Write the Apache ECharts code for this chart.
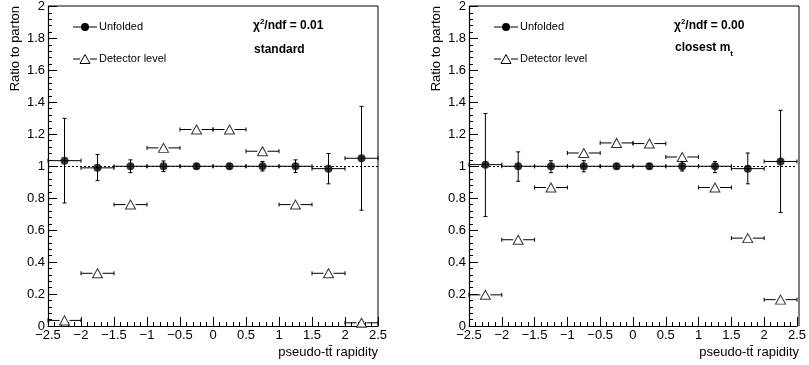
<!DOCTYPE html>
<html><head><meta charset="utf-8">
<script src="https://cdn.jsdelivr.net/npm/echarts@6/dist/echarts.min.js"></script>
<style>html,body{margin:0;padding:0;background:#fff}#c{width:809px;height:365px}</style>
</head><body><div id="c"></div>
<script>
// ---- data ----
const binEdges = [-2.5, -2, -1.5, -1, -0.5, 0, 0.5, 1, 1.5, 2, 2.5];
// panel 1: standard
const stdUnfolded   = [1.035, 0.99, 1.0, 1.0, 1.0, 1.0, 1.0, 1.0, 0.985, 1.05];
const stdUnfoldedHi = [1.30, 1.073, 1.04, 1.033, 1.015, 1.015, 1.03, 1.04, 1.08, 1.375];
const stdUnfoldedLo = [0.77, 0.91, 0.96, 0.967, 0.985, 0.985, 0.97, 0.96, 0.89, 0.725];
const stdDetector   = [0.035, 0.33, 0.76, 1.115, 1.23, 1.23, 1.094, 0.76, 0.33, 0.02];
// panel 2: closest m_t
const cloUnfolded   = [1.01, 1.0, 1.0, 1.0, 1.0, 1.0, 1.0, 1.0, 0.985, 1.03];
const cloUnfoldedHi = [1.33, 1.09, 1.035, 1.035, 1.015, 1.015, 1.03, 1.03, 1.083, 1.35];
const cloUnfoldedLo = [0.685, 0.906, 0.96, 0.965, 0.985, 0.985, 0.97, 0.96, 0.89, 0.71];
const cloDetector   = [0.195, 0.54, 0.867, 1.083, 1.146, 1.142, 1.058, 0.867, 0.55, 0.165];
const chiTexts = ['0.01', '0.00'];
const refLine = 1;

const FONT = '"Liberation Sans", Arial, Helvetica, sans-serif';
const centers = binEdges.slice(0, -1).map((e, i) => (e + binEdges[i + 1]) / 2);

function rows(vals, hi, lo) {
  return vals.map((v, i) => [centers[i], v, binEdges[i], binEdges[i + 1],
    lo ? lo[i] : v, hi ? hi[i] : v]);
}

function errRender(gap) {
  return function (params, api) {
    const x = api.value(0), y = api.value(1);
    const p = api.coord([x, y]);
    const pl = api.coord([api.value(2), y]);
    const ph = api.coord([api.value(3), y]);
    const plo = api.coord([x, api.value(4)]);
    const phi = api.coord([x, api.value(5)]);
    const st = { stroke: '#000', lineWidth: 1 };
    const c = 2;
    const ch = [];
    const L = (x1, y1, x2, y2) => ch.push({ type: 'line', shape: { x1, y1, x2, y2 }, style: st });
    L(pl[0], p[1], p[0] - gap, p[1]);
    L(p[0] + gap, p[1], ph[0], p[1]);
    L(pl[0], p[1] - c, pl[0], p[1] + c);
    L(ph[0], p[1] - c, ph[0], p[1] + c);
    if (Math.abs(phi[1] - plo[1]) > 1) {
      L(p[0], phi[1], p[0], p[1] - gap);
      L(p[0], p[1] + gap, p[0], plo[1]);
      L(p[0] - c, phi[1], p[0] + c, phi[1]);
      L(p[0] - c, plo[1], p[0] + c, plo[1]);
    }
    return { type: 'group', children: ch };
  };
}

const fmt = v => String(parseFloat(v.toFixed(1))).replace('-', '\u2212');

const grids = [
  { left: 48, width: 330, top: 6, height: 320 },
  { left: 469, width: 330, top: 6, height: 320 }
];

const xAxes = [], yAxes = [], series = [];
const panels = [
  { unf: stdUnfolded, hi: stdUnfoldedHi, lo: stdUnfoldedLo, det: stdDetector },
  { unf: cloUnfolded, hi: cloUnfoldedHi, lo: cloUnfoldedLo, det: cloDetector }
];

panels.forEach((pn, k) => {
  xAxes.push({
    type: 'value', gridIndex: k, min: -2.5, max: 2.5, interval: 0.5, position: 'bottom',
    axisLine: { onZero: false, lineStyle: { color: '#000', width: 1.2 } },
    axisTick: { inside: true, length: 9, lineStyle: { color: '#000' } },
    minorTick: { show: true, splitNumber: 5, length: 4, lineStyle: { color: '#000' } },
    splitLine: { show: false },
    axisLabel: { color: '#000', fontFamily: FONT, fontSize: 13, margin: 3, formatter: fmt, showMinLabel: true, showMaxLabel: true }
  });
  yAxes.push({
    type: 'value', gridIndex: k, min: 0, max: 2, interval: 0.2, position: 'left',
    axisLine: { show: true, onZero: false, lineStyle: { color: '#000', width: 1.2 } },
    axisTick: { show: true, inside: true, length: 9, lineStyle: { color: '#000' } },
    minorTick: { show: true, splitNumber: 5, length: 4, lineStyle: { color: '#000' } },
    splitLine: { show: false },
    axisLabel: { color: '#000', fontFamily: FONT, fontSize: 13, margin: 3, formatter: fmt }
  });
  series.push({
    type: 'line', xAxisIndex: k, yAxisIndex: k, data: [], silent: true,
    markLine: {
      silent: true, symbol: 'none', label: { show: false },
      lineStyle: { color: '#000', type: [2, 2], width: 1 },
      data: [{ yAxis: refLine }]
    }
  });
  series.push({
    type: 'custom', xAxisIndex: k, yAxisIndex: k, renderItem: errRender(5),
    data: rows(pn.det), encode: { x: 0, y: 1 }, z: 3
  });
  series.push({
    type: 'scatter', xAxisIndex: k, yAxisIndex: k, symbol: 'triangle', symbolSize: [10, 9],
    itemStyle: { color: '#fff', borderColor: '#000', borderWidth: 1 },
    data: pn.det.map((v, i) => [centers[i], v]), z: 4
  });
  series.push({
    type: 'custom', xAxisIndex: k, yAxisIndex: k, renderItem: errRender(0),
    data: rows(pn.unf, pn.hi, pn.lo), encode: { x: 0, y: 1 }, z: 5
  });
  series.push({
    type: 'scatter', xAxisIndex: k, yAxisIndex: k, symbol: 'circle', symbolSize: 8,
    itemStyle: { color: '#000' },
    data: pn.unf.map((v, i) => [centers[i], v]), z: 6
  });
});

const graphic = [];
grids.forEach((g, k) => {
  const L = g.left;
  const R = g.left + g.width;
  // frame (top & right)
  graphic.push({ type: 'polyline', shape: { points: [[L, g.top], [R, g.top], [R, g.top + g.height]] },
    style: { stroke: '#000', lineWidth: 1, fill: null }, z: 10 });
  // y axis title
  graphic.push({ type: 'text', x: L - 33, y: 6, rotation: Math.PI / 2,
    style: { text: 'Ratio to parton', font: '13px ' + FONT, fill: '#000', align: 'right', verticalAlign: 'middle' } });
  // x axis title
  graphic.push({ type: 'text', x: R, y: 352,
    style: { text: 'pseudo-tt\u0304 rapidity', font: '13px ' + FONT, fill: '#000', align: 'right', verticalAlign: 'middle' } });
  // legend
  graphic.push({ type: 'line', shape: { x1: L + 25, y1: 27, x2: L + 49, y2: 27 }, style: { stroke: '#000', lineWidth: 1 } });
  graphic.push({ type: 'circle', shape: { cx: L + 37, cy: 27, r: 4 }, style: { fill: '#000' } });
  graphic.push({ type: 'text', x: L + 51, y: 27,
    style: { text: 'Unfolded', font: '11px ' + FONT, fill: '#000', verticalAlign: 'middle' } });
  graphic.push({ type: 'line', shape: { x1: L + 25, y1: 59, x2: L + 32, y2: 59 }, style: { stroke: '#000', lineWidth: 1 } });
  graphic.push({ type: 'line', shape: { x1: L + 42, y1: 59, x2: L + 49, y2: 59 }, style: { stroke: '#000', lineWidth: 1 } });
  graphic.push({ type: 'polygon', shape: { points: [[L + 37, 54.5], [L + 42, 63.5], [L + 32, 63.5]] },
    style: { fill: '#fff', stroke: '#000', lineWidth: 1 } });
  graphic.push({ type: 'text', x: L + 51, y: 59,
    style: { text: 'Detector level', font: '11px ' + FONT, fill: '#000', verticalAlign: 'middle' } });
  // chi2 text
  graphic.push({ type: 'text', x: L + 205, y: 25,
    style: {
      text: '{a|\u03c7}{s|2}{a|/ndf = ' + chiTexts[k] + '}', verticalAlign: 'middle',
      rich: {
        a: { fontFamily: FONT, fontSize: 12, fontWeight: 'bold', fill: '#000', color: '#000', lineHeight: 14, verticalAlign: 'bottom' },
        s: { fontFamily: FONT, fontSize: 8, fontWeight: 'bold', fill: '#000', color: '#000', lineHeight: 14, verticalAlign: 'top' }
      }
    } });
  if (k === 0) {
    graphic.push({ type: 'text', x: L + 206, y: 50,
      style: { text: 'standard', font: 'bold 12px ' + FONT, fill: '#000', verticalAlign: 'middle' } });
  } else {
    graphic.push({ type: 'text', x: L + 206, y: 50,
      style: {
        text: '{a|closest m}{s|t}', verticalAlign: 'middle',
        rich: {
          a: { fontFamily: FONT, fontSize: 12, fontWeight: 'bold', fill: '#000', color: '#000', lineHeight: 16, verticalAlign: 'top' },
          s: { fontFamily: FONT, fontSize: 8, fontWeight: 'bold', fill: '#000', color: '#000', lineHeight: 16, verticalAlign: 'bottom' }
        }
      } });
  }
});

const chart = echarts.init(document.getElementById('c'), null, { renderer: 'canvas' });
chart.setOption({
  animation: false,
  backgroundColor: '#fff',
  grid: grids,
  xAxis: xAxes,
  yAxis: yAxes,
  series: series,
  graphic: graphic
});
</script></body></html>
